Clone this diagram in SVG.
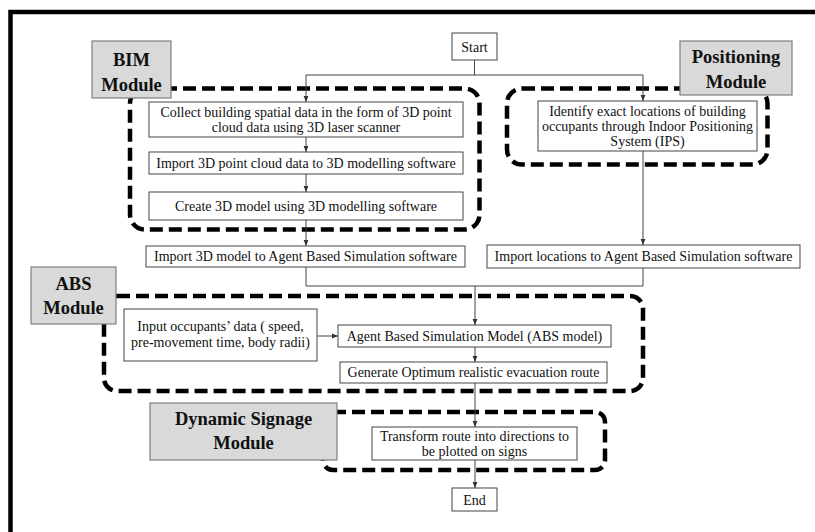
<svg xmlns="http://www.w3.org/2000/svg" width="815" height="532" viewBox="0 0 815 532">
<defs>
<style>
.frame{fill:none;stroke:#000;stroke-width:4.5}
.dash{fill:none;stroke:#000;stroke-width:4.5;stroke-dasharray:13 6}
.box{fill:#fff;stroke:#444;stroke-width:1}
.mod{fill:#d9d9d9;stroke:#7f7f7f;stroke-width:1.2}
.c{fill:none;stroke:#444;stroke-width:1}
.t{font-family:"Liberation Serif","Times New Roman",serif;font-size:14px;fill:#111;text-anchor:middle}
.m{font-family:"Liberation Serif","Times New Roman",serif;font-size:18.5px;font-weight:bold;fill:#111;text-anchor:middle}
</style>
<marker id="ah" viewBox="0 0 10 10" refX="10" refY="5" markerWidth="6" markerHeight="6" orient="auto" markerUnits="userSpaceOnUse">
<path d="M0,1 L10,5 L0,9 z" fill="#333"/>
</marker>
</defs>
<rect width="815" height="532" fill="#fff"/>
<path class="frame" d="M10.5,532 L10.5,12 L815,12"/>

<g id="module-frames">
<rect class="dash" x="130" y="88.5" width="349.5" height="141" rx="15"/>
<rect class="dash" x="507" y="88.5" width="260.5" height="76" rx="15"/>
<rect class="dash" x="104" y="296" width="539" height="95" rx="13"/>
<rect class="dash" x="323" y="412" width="282" height="58" rx="10"/>
</g>

<g id="connectors">
<path class="c" d="M474.5,60 L474.5,75 M306,75 L643,75"/>
<path class="c" d="M306,75 L306,102" marker-end="url(#ah)"/>
<path class="c" d="M643,75 L643,101" marker-end="url(#ah)"/>
<path class="c" d="M306,137 L306,152" marker-end="url(#ah)"/>
<path class="c" d="M306,174 L306,192" marker-end="url(#ah)"/>
<path class="c" d="M306,220 L306,246" marker-end="url(#ah)"/>
<path class="c" d="M643,151 L643,245" marker-end="url(#ah)"/>
<path class="c" d="M306,267 L306,286 L643,286 L643,268"/>
<path class="c" d="M475,286 L475,325" marker-end="url(#ah)"/>
<path class="c" d="M317,336 L338,336" marker-end="url(#ah)"/>
<path class="c" d="M475,347 L475,362" marker-end="url(#ah)"/>
<path class="c" d="M475,383 L475,427" marker-end="url(#ah)"/>
<path class="c" d="M475,460 L475,488" marker-end="url(#ah)"/>
</g>

<g id="start">
<rect class="box" x="452" y="33" width="45" height="27"/>
<text class="t" x="474.5" y="51.5">Start</text>
</g>
<g id="collect">
<rect class="box" x="149" y="102" width="314" height="35"/>
<text class="t" x="306" y="117">Collect building spatial data in the form of 3D point</text>
<text class="t" x="306" y="132">cloud data using 3D laser scanner</text>
</g>
<g id="import-cloud">
<rect class="box" x="149" y="152" width="314" height="22"/>
<text class="t" x="306" y="167.5">Import 3D point cloud data to 3D modelling  software</text>
</g>
<g id="create-model">
<rect class="box" x="149" y="192" width="314" height="28"/>
<text class="t" x="306" y="210.5">Create 3D model using 3D modelling  software</text>
</g>
<g id="import-model">
<rect class="box" x="146" y="246" width="319" height="21"/>
<text class="t" x="305.5" y="261">Import 3D model to Agent Based Simulation  software</text>
</g>
<g id="identify">
<rect class="box" x="538" y="101" width="219" height="50"/>
<text class="t" x="647.5" y="116">Identify exact locations of building</text>
<text class="t" x="647.5" y="131">occupants through Indoor Positioning</text>
<text class="t" x="647.5" y="146">System (IPS)</text>
</g>
<g id="import-locations">
<rect class="box" x="487" y="245" width="313" height="23"/>
<text class="t" x="643.5" y="261">Import locations to Agent Based Simulation  software</text>
</g>
<g id="input-data">
<rect class="box" x="124" y="309" width="193" height="52"/>
<text class="t" x="220.5" y="331">Input occupants’ data ( speed,</text>
<text class="t" x="220.5" y="347">pre-movement time, body radii)</text>
</g>
<g id="abs-model">
<rect class="box" x="338" y="325" width="273" height="22"/>
<text class="t" x="474.5" y="340.5">Agent Based Simulation Model (ABS model)</text>
</g>
<g id="generate">
<rect class="box" x="340" y="362" width="267" height="21"/>
<text class="t" x="473.5" y="377">Generate Optimum realistic  evacuation route</text>
</g>
<g id="transform">
<rect class="box" x="372" y="427" width="205" height="33"/>
<text class="t" x="474.5" y="441">Transform route into directions to</text>
<text class="t" x="474.5" y="456">be plotted on signs</text>
</g>
<g id="end">
<rect class="box" x="452" y="488" width="45" height="23"/>
<text class="t" x="474.5" y="504.5">End</text>
</g>

<g id="bim-module">
<rect class="mod" x="92" y="41" width="79" height="57"/>
<text class="m" x="131.5" y="66">BIM</text>
<text class="m" x="131.5" y="91">Module</text>
</g>
<g id="positioning-module">
<rect class="mod" x="680" y="41" width="112" height="54"/>
<text class="m" x="736" y="63">Positioning</text>
<text class="m" x="736" y="88">Module</text>
</g>
<g id="abs-module">
<rect class="mod" x="31" y="267" width="85" height="57"/>
<text class="m" x="73.5" y="290">ABS</text>
<text class="m" x="73.5" y="314">Module</text>
</g>
<g id="signage-module">
<rect class="mod" x="150" y="403" width="187" height="57"/>
<text class="m" x="243.5" y="425">Dynamic Signage</text>
<text class="m" x="243.5" y="449">Module</text>
</g>
</svg>
